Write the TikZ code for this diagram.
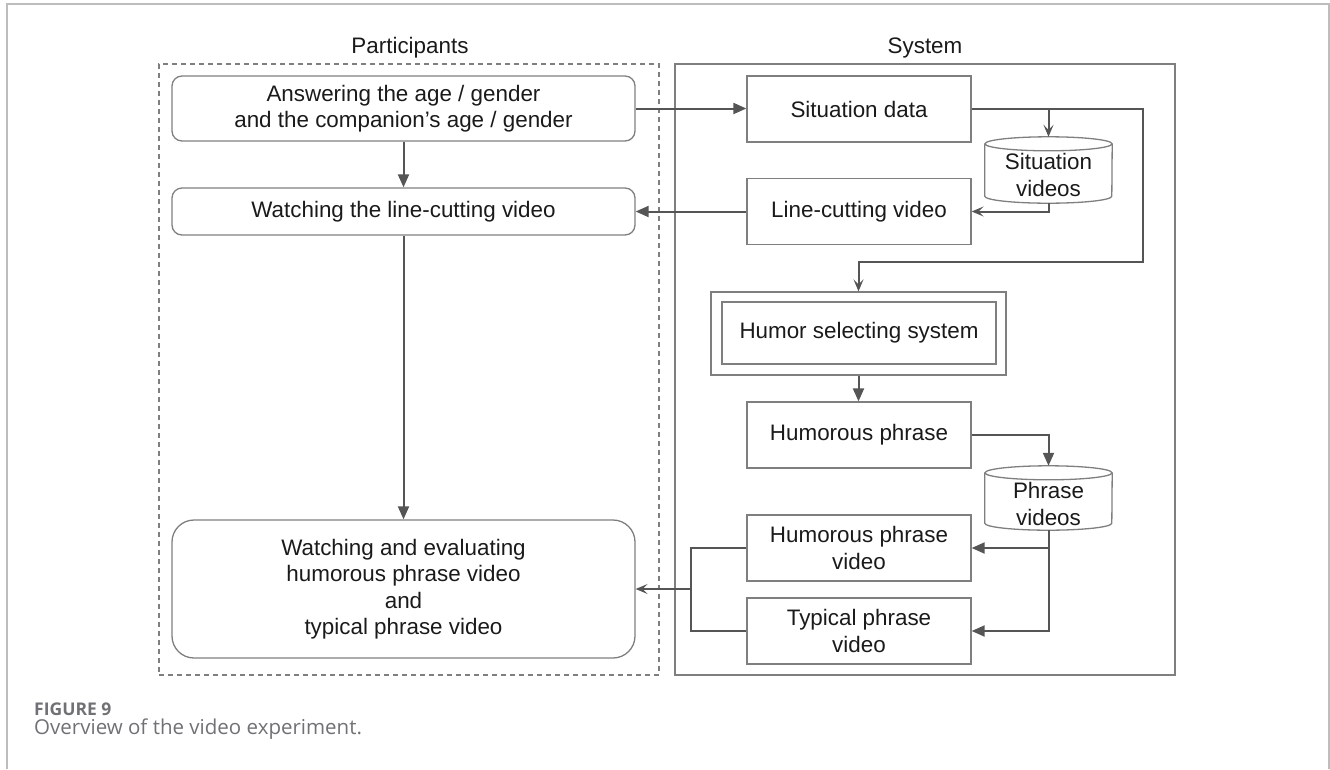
\documentclass[tikz,border=0pt]{standalone}
\usepackage{fontspec}
\setmainfont{Liberation Sans}
\newfontfamily\capfont{Open Sans}
\usetikzlibrary{arrows.meta,calc}
\definecolor{cline}{HTML}{555555}
\definecolor{bord}{HTML}{7F7F7F}
\definecolor{txt}{HTML}{1A1A1A}
\definecolor{framec}{HTML}{BDBDBD}
\definecolor{capgray}{HTML}{707174}
\newcommand\drawcyl[1]{%
  \draw[bord, line width=1.3pt] ($(#1.north)+(0,7)$) ellipse[x radius=63.5, y radius=7];
  \draw[bord, line width=1.3pt] ($(#1.north west)+(0,7)$) -- ($(#1.south west)+(0,-7)$)
    arc[start angle=180, end angle=0, x radius=63.5, y radius=7] -- ($(#1.north east)+(0,7)$);
}
\begin{document}
\begin{tikzpicture}[x=1pt,y=-1pt,
  every node/.style={font=\fontsize{22.4}{26.5}\selectfont, text=txt, align=center, inner sep=0pt},
  pbox/.style={draw=bord, line width=1.3pt, rounded corners=10pt, minimum width=463pt},
  sbox/.style={draw=bord, line width=1.3pt, minimum width=224pt, minimum height=66pt},
  conn/.style={draw=cline, line width=2pt},
  blk/.style={conn, -{Triangle[length=13pt,width=11pt]}},
  thinarr/.style={conn, -{Stealth[length=12pt,width=10pt,inset=5pt]}},
]
\useasboundingbox (0,0) rectangle (1330,769);
% outer frame
\draw[framec, line width=2pt] (7,769) -- (7,4) -- (1329,4) -- (1329,769);

% containers
\node[draw=bord, line width=1.2pt, dash pattern=on 5pt off 4pt, minimum width=500pt, minimum height=611pt] (part) at (409,369.5) {};
\node[draw=bord, line width=1.3pt, minimum width=500pt, minimum height=611pt] (sys) at (925,369.5) {};
\node[anchor=base] (ptitle) at (410,53) {Participants};
\node[anchor=base] (stitle) at (925,53) {System};

% participant nodes
\node[pbox, minimum height=65pt] (A) at (403.5,108.5) {Answering the age / gender\\and the companion’s age / gender};
\node[pbox, minimum height=47pt] (B) at (403.5,211.5) {Watching the line-cutting video};
\node[pbox, minimum height=138pt, rounded corners=22pt] (C) at (403.5,589) {Watching and evaluating\\humorous phrase video\\and\\typical phrase video};

% system nodes
\node[sbox] (SD) at (859,109) {Situation data};
\node[sbox] (LCV) at (859,211.5) {Line-cutting video};
\node[draw=bord, line width=1.3pt, minimum width=295pt, minimum height=83pt] (HO) at (858.5,333.5) {};
\node[draw=bord, line width=1.3pt, minimum width=274pt, minimum height=62pt] (HI) at (859,333) {Humor selecting system};
\node[sbox] (HP) at (859,435) {Humorous phrase};
\node[sbox] (HPV) at (859,548) {Humorous phrase\\video};
\node[sbox] (TPV) at (859,631) {Typical phrase\\video};

% cylinders
\node[minimum width=127pt, minimum height=66pt] (SV) at (1048.5,170) {};
\drawcyl{SV}
\node (SVt) at ($(SV.center)+(0,5)$) {Situation\\videos};
\node[minimum width=127pt, minimum height=64pt] (PV) at (1048.5,498) {};
\drawcyl{PV}
\node (PVt) at ($(PV.center)+(0,6)$) {Phrase\\videos};

% connectors
\coordinate (turn) at (1143,262);
\coordinate (jn) at (691,589);
\draw[blk] (A.east) -- (A.east -| SD.west);
\draw[blk] (A.south) -- (B.north);
\draw[blk] (B.south) -- (C.north);
\draw[blk] (LCV.west) -- (LCV.west -| B.east);
\draw[thinarr] (SD.east) -| (turn) -| (HO.north);
\draw[thinarr] (SD.east -| SV.north) -- (SV.north);
\draw[thinarr] (SV.south) |- (LCV.east);
\draw[blk] (HO.south) -- (HO.south |- HP.north);
\draw[blk] (HP.east) -| (PV.north);
\draw[blk] (PV.south) |- (HPV.east);
\draw[blk] (PV.south) |- (TPV.east);
\draw[conn] (HPV.west) -| (jn) |- (TPV.west);
\draw[thinarr] (jn) -- (jn -| C.east);

% caption
\node[anchor=west, font=\capfont\bfseries\fontsize{17.5}{20}\selectfont, text=capgray] (fig) at (34,709) {FIGURE 9};
\node[anchor=west, font=\capfont\fontsize{20.5}{24}\selectfont, text=capgray] (cap) at (34,729) {Overview of the video experiment.};
\end{tikzpicture}
\end{document}
